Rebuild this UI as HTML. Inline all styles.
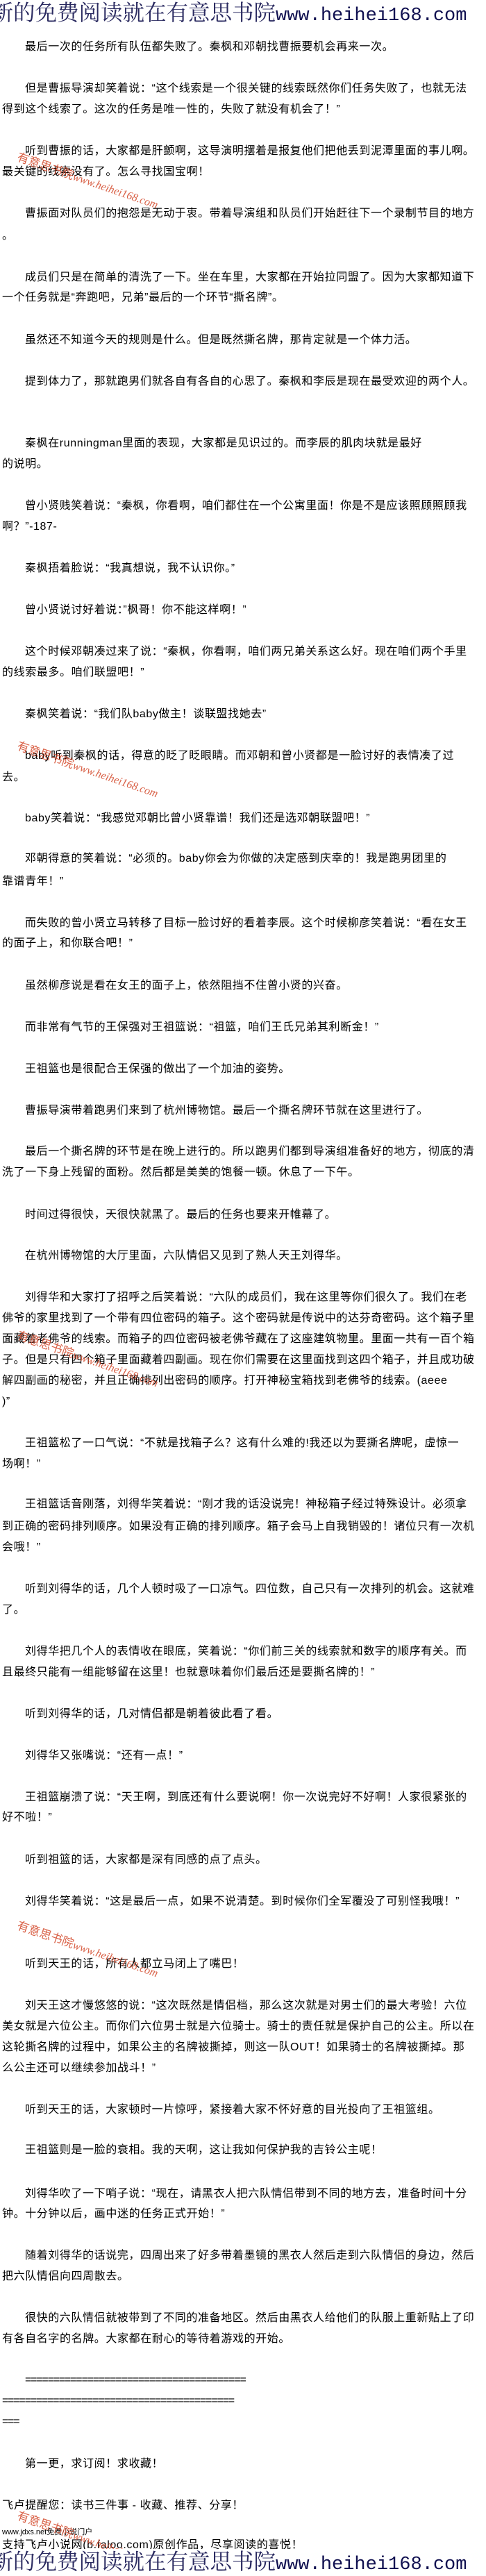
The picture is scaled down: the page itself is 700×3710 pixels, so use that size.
<!DOCTYPE html>
<html><head><meta charset="utf-8">
<style>
html,body{margin:0;padding:0;background:#fff;}
body{width:700px;height:3710px;position:relative;overflow:hidden;font-family:"Liberation Sans","Noto Sans CJK SC",sans-serif;}
.l{position:absolute;left:3px;height:30px;line-height:30px;font-size:16px;letter-spacing:0.6px;white-space:nowrap;color:#000;}
.i{left:36px;}
.hw{position:absolute;left:0;width:700px;height:34px;overflow:hidden;background:#fff;}
.hdr{position:absolute;left:-44px;top:0;height:34px;line-height:34px;white-space:nowrap;color:#1c1c55;}
.hdr .c{font-family:"Noto Serif CJK SC","Liberation Serif",serif;font-size:31.5px;color:#2a2a60;}
.hdr .u{font-family:"Liberation Mono",monospace;font-size:27px;color:#101050;}
.wm{position:absolute;left:30px;white-space:nowrap;transform-origin:0 0;transform:rotate(19deg);color:rgba(210,70,40,0.85);}
.wm .a{font-family:"Noto Sans CJK SC",sans-serif;font-size:17px;}
.wm .b{font-family:"Liberation Serif",serif;font-size:16px;font-style:italic;}
.sm{font-size:11px;letter-spacing:0;}
</style></head><body>

<div class="hw" style="top:0px;"><div class="hdr"><span class="c">最新的免费阅读就在有意思书院</span><span class="u">www.heihei168.com</span></div></div>

<div class="l i" style="top:53px">最后一次的任务所有队伍都失败了。秦枫和邓朝找曹振要机会再来一次。</div>
<div class="l i" style="top:113px">但是曹振导演却笑着说：“这个线索是一个很关键的线索既然你们任务失败了，也就无法</div>
<div class="l" style="top:143px">得到这个线索了。这次的任务是唯一性的，失败了就没有机会了！”</div>
<div class="l i" style="top:203px">听到曹振的话，大家都是肝颤啊，这导演明摆着是报复他们把他丢到泥潭里面的事儿啊。</div>
<div class="l" style="top:233px">最关键的线索没有了。怎么寻找国宝啊！</div>
<div class="l i" style="top:293px">曹振面对队员们的抱怨是无动于衷。带着导演组和队员们开始赶往下一个录制节目的地方</div>
<div class="l" style="top:325px">。</div>
<div class="l i" style="top:385px">成员们只是在简单的清洗了一下。坐在车里，大家都在开始拉同盟了。因为大家都知道下</div>
<div class="l" style="top:414px">一个任务就是“奔跑吧，兄弟”最后的一个环节“撕名牌”。</div>
<div class="l i" style="top:475px">虽然还不知道今天的规则是什么。但是既然撕名牌，那肯定就是一个体力活。</div>
<div class="l i" style="top:535px">提到体力了，那就跑男们就各自有各自的心思了。秦枫和李辰是现在最受欢迎的两个人。</div>
<div class="l i" style="top:624px">秦枫在runningman里面的表现，大家都是见识过的。而李辰的肌肉块就是最好</div>
<div class="l" style="top:654px">的说明。</div>
<div class="l i" style="top:714px">曾小贤贱笑着说：“秦枫，你看啊，咱们都住在一个公寓里面！你是不是应该照顾照顾我</div>
<div class="l" style="top:744px">啊？”-187-</div>
<div class="l i" style="top:804px">秦枫捂着脸说：“我真想说，我不认识你。”</div>
<div class="l i" style="top:864px">曾小贤说讨好着说：”枫哥！你不能这样啊！”</div>
<div class="l i" style="top:924px">这个时候邓朝凑过来了说：“秦枫，你看啊，咱们两兄弟关系这么好。现在咱们两个手里</div>
<div class="l" style="top:954px">的线索最多。咱们联盟吧！”</div>
<div class="l i" style="top:1014px">秦枫笑着说：“我们队baby做主！谈联盟找她去”</div>
<div class="l i" style="top:1074px">baby听到秦枫的话，得意的眨了眨眼睛。而邓朝和曾小贤都是一脸讨好的表情凑了过</div>
<div class="l" style="top:1105px">去。</div>
<div class="l i" style="top:1164px">baby笑着说：“我感觉邓朝比曾小贤靠谱！我们还是选邓朝联盟吧！”</div>
<div class="l i" style="top:1222px">邓朝得意的笑着说：“必须的。baby你会为你做的决定感到庆幸的！我是跑男团里的</div>
<div class="l" style="top:1255px">靠谱青年！”</div>
<div class="l i" style="top:1315px">而失败的曾小贤立马转移了目标一脸讨好的看着李辰。这个时候柳彦笑着说：“看在女王</div>
<div class="l" style="top:1344px">的面子上，和你联合吧！”</div>
<div class="l i" style="top:1405px">虽然柳彦说是看在女王的面子上，依然阻挡不住曾小贤的兴奋。</div>
<div class="l i" style="top:1465px">而非常有气节的王保强对王祖篮说：“祖篮，咱们王氏兄弟其利断金！”</div>
<div class="l i" style="top:1525px">王祖篮也是很配合王保强的做出了一个加油的姿势。</div>
<div class="l i" style="top:1585px">曹振导演带着跑男们来到了杭州博物馆。最后一个撕名牌环节就在这里进行了。</div>
<div class="l i" style="top:1644px">最后一个撕名牌的环节是在晚上进行的。所以跑男们都到导演组准备好的地方，彻底的清</div>
<div class="l" style="top:1674px">洗了一下身上残留的面粉。然后都是美美的饱餐一顿。休息了一下午。</div>
<div class="l i" style="top:1735px">时间过得很快，天很快就黑了。最后的任务也要来开帷幕了。</div>
<div class="l i" style="top:1794px">在杭州博物馆的大厅里面，六队情侣又见到了熟人天王刘得华。</div>
<div class="l i" style="top:1854px">刘得华和大家打了招呼之后笑着说：“六队的成员们，我在这里等你们很久了。我们在老</div>
<div class="l" style="top:1884px">佛爷的家里找到了一个带有四位密码的箱子。这个密码就是传说中的达芬奇密码。这个箱子里</div>
<div class="l" style="top:1914px">面藏着老佛爷的线索。而箱子的四位密码被老佛爷藏在了这座建筑物里。里面一共有一百个箱</div>
<div class="l" style="top:1944px">子。但是只有四个箱子里面藏着四副画。现在你们需要在这里面找到这四个箱子，并且成功破</div>
<div class="l" style="top:1974px">解四副画的秘密，并且正确排列出密码的顺序。打开神秘宝箱找到老佛爷的线索。(aeee</div>
<div class="l" style="top:2004px">)”</div>
<div class="l i" style="top:2064px">王祖篮松了一口气说：“不就是找箱子么？这有什么难的!我还以为要撕名牌呢，虚惊一</div>
<div class="l" style="top:2094px">场啊！”</div>
<div class="l i" style="top:2152px">王祖篮话音刚落，刘得华笑着说：“刚才我的话没说完！神秘箱子经过特殊设计。必须拿</div>
<div class="l" style="top:2184px">到正确的密码排列顺序。如果没有正确的排列顺序。箱子会马上自我销毁的！诸位只有一次机</div>
<div class="l" style="top:2214px">会哦！”</div>
<div class="l i" style="top:2274px">听到刘得华的话，几个人顿时吸了一口凉气。四位数，自己只有一次排列的机会。这就难</div>
<div class="l" style="top:2304px">了。</div>
<div class="l i" style="top:2364px">刘得华把几个人的表情收在眼底，笑着说：“你们前三关的线索就和数字的顺序有关。而</div>
<div class="l" style="top:2394px">且最终只能有一组能够留在这里！也就意味着你们最后还是要撕名牌的！”</div>
<div class="l i" style="top:2454px">听到刘得华的话，几对情侣都是朝着彼此看了看。</div>
<div class="l i" style="top:2514px">刘得华又张嘴说：“还有一点！”</div>
<div class="l i" style="top:2574px">王祖篮崩溃了说：“天王啊，到底还有什么要说啊！你一次说完好不好啊！人家很紧张的</div>
<div class="l" style="top:2603px">好不啦！”</div>
<div class="l i" style="top:2664px">听到祖篮的话，大家都是深有同感的点了点头。</div>
<div class="l i" style="top:2724px">刘得华笑着说：“这是最后一点，如果不说清楚。到时候你们全军覆没了可别怪我哦！”</div>
<div class="l i" style="top:2814px">听到天王的话，所有人都立马闭上了嘴巴！</div>
<div class="l i" style="top:2874px">刘天王这才慢悠悠的说：“这次既然是情侣档，那么这次就是对男士们的最大考验！六位</div>
<div class="l" style="top:2904px">美女就是六位公主。而你们六位男士就是六位骑士。骑士的责任就是保护自己的公主。所以在</div>
<div class="l" style="top:2934px">这轮撕名牌的过程中，如果公主的名牌被撕掉，则这一队OUT！如果骑士的名牌被撕掉。那</div>
<div class="l" style="top:2964px">么公主还可以继续参加战斗！”</div>
<div class="l i" style="top:3024px">听到天王的话，大家顿时一片惊呼，紧接着大家不怀好意的目光投向了王祖篮组。</div>
<div class="l i" style="top:3082px">王祖篮则是一脸的衰相。我的天啊，这让我如何保护我的吉铃公主呢！</div>
<div class="l i" style="top:3145px">刘得华吹了一下哨子说：“现在，请黑衣人把六队情侣带到不同的地方去，准备时间十分</div>
<div class="l" style="top:3174px">钟。十分钟以后，画中迷的任务正式开始！”</div>
<div class="l i" style="top:3234px">随着刘得华的话说完，四周出来了好多带着墨镜的黑衣人然后走到六队情侣的身边，然后</div>
<div class="l" style="top:3264px">把六队情侣向四周散去。</div>
<div class="l i" style="top:3324px">很快的六队情侣就被带到了不同的准备地区。然后由黑衣人给他们的队服上重新贴上了印</div>
<div class="l" style="top:3354px">有各自名字的名牌。大家都在耐心的等待着游戏的开始。</div>
<div class="l i" style="top:3413px;letter-spacing:-1.2px">=======================================</div>
<div class="l" style="top:3443px;letter-spacing:-1.2px">=========================================</div>
<div class="l" style="top:3473px;letter-spacing:-1.2px">===</div>
<div class="l i" style="top:3534px">第一更，求订阅！求收藏！</div>
<div class="l" style="top:3594px">飞卢提醒您：读书三件事 - 收藏、推荐、分享！</div>
<div class="l sm" style="top:3632px">www.jdxs.net免费小说门户</div>
<div class="l" style="top:3651px">支持飞卢小说网(b.faloo.com)原创作品，尽享阅读的喜悦！</div>

<div class="wm" style="top:212px"><span class="a">有意思书院</span><span class="b">www.heihei168.com</span></div>
<div class="wm" style="top:1060px"><span class="a">有意思书院</span><span class="b">www.heihei168.com</span></div>
<div class="wm" style="top:1909px"><span class="a">有意思书院</span><span class="b">www.heihei168.com</span></div>
<div class="wm" style="top:2759px"><span class="a">有意思书院</span><span class="b">www.heihei168.com</span></div>
<div class="wm" style="top:3609px"><span class="a">有意思书院</span><span class="b">www.heihei168.com</span></div>

<div class="hw" style="top:3671px;height:39px;"><div class="hdr"><span class="c">最新的免费阅读就在有意思书院</span><span class="u">www.heihei168.com</span></div></div>
</body></html>
